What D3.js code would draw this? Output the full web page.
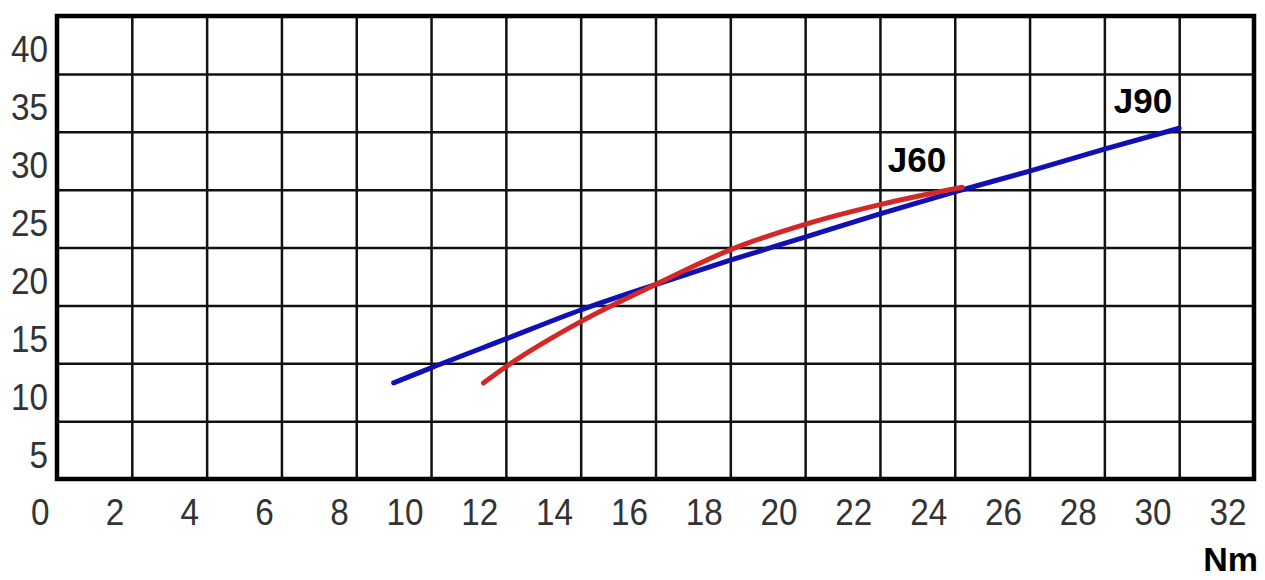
<!DOCTYPE html>
<html>
<head>
<meta charset="utf-8">
<script src="https://cdn.jsdelivr.net/npm/d3@7"></script>
<style>
	html, body { margin: 0; padding: 0; background: #fff; }
	svg { display: block; }
	.tick text { font-family: "Liberation Sans", Arial, sans-serif; font-size: 37px; fill: #333; }
	.tick line { stroke: #111; stroke-width: 2.5; }
	.domain { display: none; }
	.tag { font-family: "Liberation Sans", Arial, sans-serif; font-weight: bold; font-size: 35px; fill: #000; }
</style>
</head>
<body>
<svg id="chart"></svg>
<script>
// torque (Nm) on x, values on y
const xTicks = [0, 2, 4, 6, 8, 10, 12, 14, 16, 18, 20, 22, 24, 26, 28, 30, 32];
const yTicks = [5, 10, 15, 20, 25, 30, 35, 40];

const j90X = [9.0, 10, 12, 14, 16, 18, 20, 22, 24, 26, 28, 30];
const j90Y = [8.3, 9.6, 12.1, 14.6, 16.8, 18.9, 20.9, 22.9, 24.8, 26.6, 28.5, 30.3];

const j60X = [11.4, 12, 14, 16, 18, 20, 22, 24.2];
const j60Y = [8.3, 9.7, 13.6, 16.8, 19.8, 22.0, 23.7, 25.2];

const width = 1265, height = 580;
const margin = {left: 57, right: 11, top: 16, bottom: 101};

const svg = d3.select('#chart')
	.attr('width', width)
	.attr('height', height);

const x = d3.scaleLinear().domain([0, 32]).range([margin.left, width - margin.right]);
const y = d3.scaleLinear().domain([0, 40]).range([height - margin.bottom, margin.top]);
const plotW = width - margin.left - margin.right;
const plotH = height - margin.top - margin.bottom;

// grid + labels, labels sit below-left of their line like the scan
let gx = svg.append('g')
	.attr('transform', `translate(0, ${y(0)})`)
	.call(d3.axisBottom(x).tickValues(xTicks).tickSize(-plotH).tickFormat(d3.format('d')));
gx.selectAll('.tick text')
	.attr('text-anchor', 'end')
	.attr('transform', 'scale(0.9,1)')
	.attr('x', -9)
	.attr('y', 46)
	.attr('dy', 0);

let gy = svg.append('g')
	.attr('transform', `translate(${x(0)}, 0)`)
	.call(d3.axisLeft(y).tickValues(yTicks).tickSize(-plotW).tickFormat(d3.format('d')));
gy.selectAll('.tick text')
	.attr('transform', 'scale(0.9,1)')
	.attr('x', -10)
	.attr('y', 46)
	.attr('dy', 0);

// frame
svg.append('rect')
	.attr('x', x(0))
	.attr('y', y(40))
	.attr('width', plotW)
	.attr('height', plotH)
	.attr('fill', 'none')
	.attr('stroke', '#000')
	.attr('stroke-width', 4.5);

const line = d3.line()
	.x(d => x(d[0]))
	.y(d => y(d[1]))
	.curve(d3.curveMonotoneX);

const series = [
	{name: 'J90', xs: j90X, ys: j90Y, color: '#1010b4', dx: -7},
	{name: 'J60', xs: j60X, ys: j60Y, color: '#d42828', dx: -16}
];

series.forEach(s => {
	let pts = s.xs.map((v, i) => [v, s.ys[i]]);
	svg.append('path')
		.datum(pts)
		.attr('d', line)
		.attr('fill', 'none')
		.attr('stroke', s.color)
		.attr('stroke-width', 5)
		.attr('stroke-linecap', 'round');
	let last = pts[pts.length - 1];
	svg.append('text')
		.attr('class', 'tag')
		.attr('text-anchor', 'end')
		.attr('x', x(last[0]) + s.dx)
		.attr('y', y(last[1]) - 15)
		.text(s.name);
});

// unit
svg.append('text')
	.attr('class', 'tag')
	.attr('text-anchor', 'end')
	.attr('x', 1258)
	.attr('y', 571)
	.style('font-size', '34px')
	.text('Nm');
</script>
</body>
</html>
